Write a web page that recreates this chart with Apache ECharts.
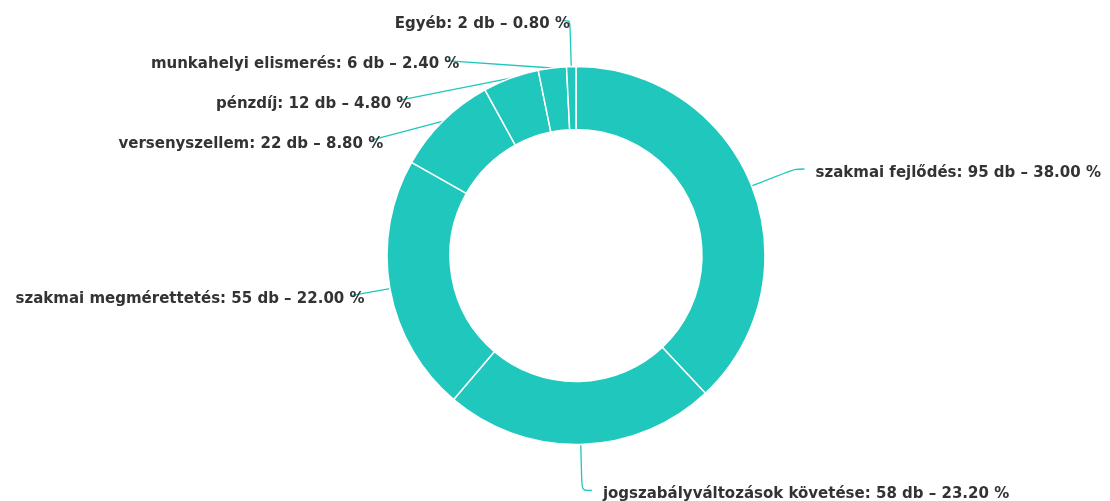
<!DOCTYPE html>
<html>
<head>
<meta charset="utf-8">
<script src="https://cdn.jsdelivr.net/npm/echarts@6/dist/echarts.min.js"></script>
<style>
html,body{margin:0;padding:0;background:#fff;}
#chart{width:1110px;height:501px;}
</style>
</head>
<body>
<div id="chart"></div>
<script>
const categories = ['szakmai fejlődés', 'jogszabályváltozások követése', 'szakmai megmérettetés', 'versenyszellem', 'pénzdíj', 'munkahelyi elismerés', 'Egyéb'];
const counts = [95, 58, 55, 22, 12, 6, 2];
const unit = 'db';

const total = counts.reduce((a, b) => a + b, 0);
const teal = '#1fc7bc';

// leader-line styling per slice (tuned to the reference look)
const leaderLen = [46, 46, 40, 32, 30, 20, 46];
const leaderLen2 = [10, 10, 0, 0, 0, 0, 6];
const leaderGap = [11, 11, -14, -14, -14, -14, -6];

let acc = 0;
const seriesData = categories.map((c, i) => {
  const mid = (acc + counts[i] / 2) / total * 360;
  acc += counts[i];
  const right = Math.sin(mid * Math.PI / 180) > 0;
  return {
    name: c,
    value: counts[i],
    label: right ? {distanceToLabelLine: leaderGap[i]} : {distanceToLabelLine: leaderGap[i], lineHeight: 38},
    labelLine: {length: leaderLen[i], length2: leaderLen2[i]}
  };
});

const chart = echarts.init(document.getElementById('chart'), null, {renderer: 'canvas'});
chart.setOption({
  animation: false,
  backgroundColor: '#fff',
  series: [{
    type: 'pie',
    center: [576, 255.5],
    radius: [126, 189],
    startAngle: 90,
    clockwise: true,
    avoidLabelOverlap: true,
    itemStyle: {color: teal, borderColor: '#fff', borderWidth: 1.5},
    label: {
      show: true,
      color: '#333',
      fontFamily: 'DejaVu Sans',
      fontWeight: 'bold',
      fontSize: 15,
      width: 600,
      overflow: 'none',
      bleedMargin: 0,
      formatter: p => p.name + ': ' + p.value + ' ' + unit + ' – ' + (p.value / total * 100).toFixed(2) + ' %'
    },
    labelLayout: {dy: 4},
    labelLine: {
      show: true,
      smooth: 0.3,
      lineStyle: {color: teal, width: 1.3}
    },
    emphasis: {disabled: true},
    data: seriesData
  }]
});
</script>
</body>
</html>
